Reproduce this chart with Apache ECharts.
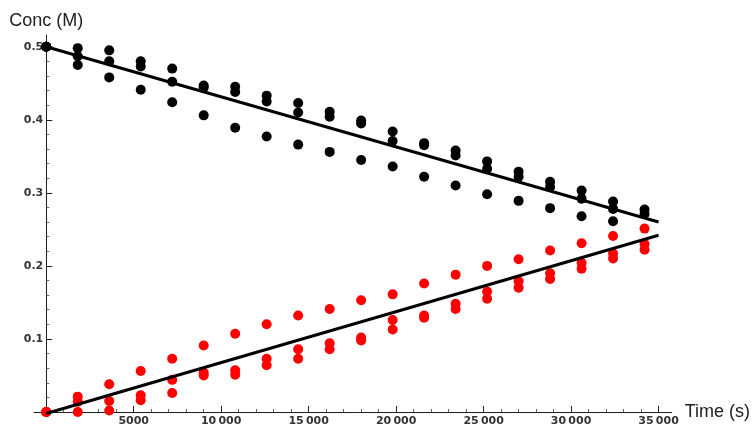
<!DOCTYPE html>
<html>
<head>
<meta charset="utf-8">
<script src="https://cdn.jsdelivr.net/npm/echarts@6/dist/echarts.min.js"></script>
<style>
html,body{margin:0;padding:0;background:#fff;}
#chart{width:753px;height:427px;}
</style>
</head>
<body>
<div id="chart"></div>
<script>
// Sampling times (s)
var times = [0, 1800, 3600, 5400, 7200, 9000, 10800, 12600, 14400, 16200,
             18000, 19800, 21600, 23400, 25200, 27000, 28800, 30600, 32400, 34200];

// Reactant concentration (black), three runs
var reactantA = [0.500, 0.498, 0.495, 0.480, 0.470, 0.447, 0.445, 0.433, 0.423, 0.411,
                 0.399, 0.384, 0.368, 0.358, 0.343, 0.329, 0.315, 0.303, 0.288, 0.277];
var reactantB = [0.500, 0.487, 0.480, 0.473, 0.452, 0.444, 0.438, 0.425, 0.410, 0.404,
                 0.395, 0.371, 0.365, 0.351, 0.333, 0.322, 0.308, 0.292, 0.278, 0.271];
var reactantC = [0.500, 0.475, 0.458, 0.441, 0.424, 0.406, 0.389, 0.377, 0.366, 0.356,
                 0.345, 0.336, 0.322, 0.310, 0.298, 0.289, 0.279, 0.268, 0.261, null];

// Product concentration (red), three runs
var productA = [0.000, 0.021, 0.038, 0.056, 0.073, 0.091, 0.107, 0.120, 0.132, 0.141,
                0.153, 0.161, 0.176, 0.188, 0.200, 0.209, 0.221, 0.231, 0.241, 0.251];
var productB = [0.000, 0.014, 0.015, 0.023, 0.044, 0.054, 0.057, 0.073, 0.086, 0.094,
                0.102, 0.126, 0.132, 0.148, 0.165, 0.179, 0.190, 0.204, 0.217, 0.230];
var productC = [0.000, 0.000, 0.002, 0.016, 0.026, 0.050, 0.051, 0.064, 0.073, 0.086,
                0.098, 0.113, 0.129, 0.141, 0.155, 0.170, 0.182, 0.196, 0.210, 0.222];

// Fitted straight lines (endpoints)
var fitTimes = [0, 35000];
var reactantFit = [0.500, 0.260];
var productFit = [-0.002, 0.242];

// Axis ticks
var xMajorTicks = [0, 5000, 10000, 15000, 20000, 25000, 30000, 35000];
var xLabelTicks = [5000, 10000, 15000, 20000, 25000, 30000, 35000];
var xMinorTicks = [1000, 2000, 3000, 4000, 6000, 7000, 8000, 9000, 11000, 12000, 13000, 14000,
                   16000, 17000, 18000, 19000, 21000, 22000, 23000, 24000, 26000, 27000, 28000, 29000,
                   31000, 32000, 33000, 34000];
var yMajorTicks = [0.1, 0.2, 0.3, 0.4, 0.5];
var yMinorTicks = [0.02, 0.04, 0.06, 0.08, 0.12, 0.14, 0.16, 0.18, 0.22, 0.24, 0.26, 0.28,
                   0.32, 0.34, 0.36, 0.38, 0.42, 0.44, 0.46, 0.48, 0.52];

function pairs(xs, ys) {
  var out = [];
  for (var i = 0; i < xs.length; i++) {
    if (ys[i] !== null && ys[i] !== undefined) out.push([xs[i], ys[i]]);
  }
  return out;
}
function fmtNum(v) {
  var s = String(v);
  if (s.length > 4) s = s.slice(0, s.length - 3) + '\u2009' + s.slice(s.length - 3);
  return s;
}

var labelStyle = {
  fontFamily: 'DejaVu Sans',
  fontWeight: 'bold',
  fontSize: 11,
  color: '#333'
};
var X_MIN = -700, X_MAX = 35750, Y_MIN = 0, Y_MAX = 0.516;
var GRID_LEFT = 34, GRID_RIGHT = 81;
// shift of the y axis so that it sits on time = 0
var yShift = -(0 - X_MIN) / (X_MAX - X_MIN) * (753 - GRID_LEFT - GRID_RIGHT);

var dot = function (color, ys) {
  return {type: 'scatter', data: pairs(times, ys), symbolSize: 10,
          itemStyle: {color: color, opacity: 1}, clip: false, z: 2};
};

var chart = echarts.init(document.getElementById('chart'), null, {renderer: 'canvas'});
chart.setOption({
  animation: false,
  backgroundColor: '#fff',
  grid: {left: GRID_LEFT, right: GRID_RIGHT, top: 35, bottom: 15, containLabel: false},
  xAxis: [{
    type: 'value', min: X_MIN, max: X_MAX, position: 'bottom',
    name: 'Time (s)', nameLocation: 'end', nameGap: 12,
    nameTextStyle: {fontFamily: 'Liberation Sans', fontSize: 18, color: '#222'},
    axisLine: {show: true, onZero: false, lineStyle: {color: '#222', width: 1}},
    axisTick: {show: true, inside: true, length: 6, customValues: xMajorTicks, lineStyle: {color: '#222'}},
    axisLabel: Object.assign({show: true, margin: 4, customValues: xLabelTicks,
      formatter: function (v) { return fmtNum(v); }}, labelStyle),
    splitLine: {show: false}
  }, {
    type: 'value', min: X_MIN, max: X_MAX, position: 'bottom',
    axisLine: {show: false, onZero: false},
    axisTick: {show: true, inside: true, length: 3, customValues: xMinorTicks, lineStyle: {color: '#666'}},
    axisLabel: {show: false},
    splitLine: {show: false}
  }],
  yAxis: [{
    type: 'value', min: Y_MIN, max: Y_MAX, position: 'left', offset: yShift,
    name: 'Conc (M)', nameLocation: 'end', nameGap: 5,
    nameTextStyle: {fontFamily: 'Liberation Sans', fontSize: 18, color: '#222'},
    axisLine: {show: true, onZero: false, lineStyle: {color: '#222', width: 1}},
    axisTick: {show: true, inside: true, length: 6, customValues: yMajorTicks, lineStyle: {color: '#222'}},
    axisLabel: Object.assign({show: true, margin: 3, customValues: yMajorTicks,
      formatter: function (v) { return String(Math.round(v * 10) / 10); }}, labelStyle),
    splitLine: {show: false}
  }, {
    type: 'value', min: Y_MIN, max: Y_MAX, position: 'left', offset: yShift,
    axisLine: {show: false, onZero: false},
    axisTick: {show: true, inside: true, length: 3, customValues: yMinorTicks, lineStyle: {color: '#666'}},
    axisLabel: {show: false},
    splitLine: {show: false}
  }],
  series: [
    dot('#000', reactantA), dot('#000', reactantB), dot('#000', reactantC),
    dot('#f00', productA), dot('#f00', productB), dot('#f00', productC),
    {type: 'line', data: pairs(fitTimes, reactantFit), symbol: 'none', clip: false, z: 3,
     lineStyle: {color: '#000', width: 3}},
    {type: 'line', data: pairs(fitTimes, productFit), symbol: 'none', clip: false, z: 3,
     lineStyle: {color: '#000', width: 3}}
  ]
});
</script>
</body>
</html>
